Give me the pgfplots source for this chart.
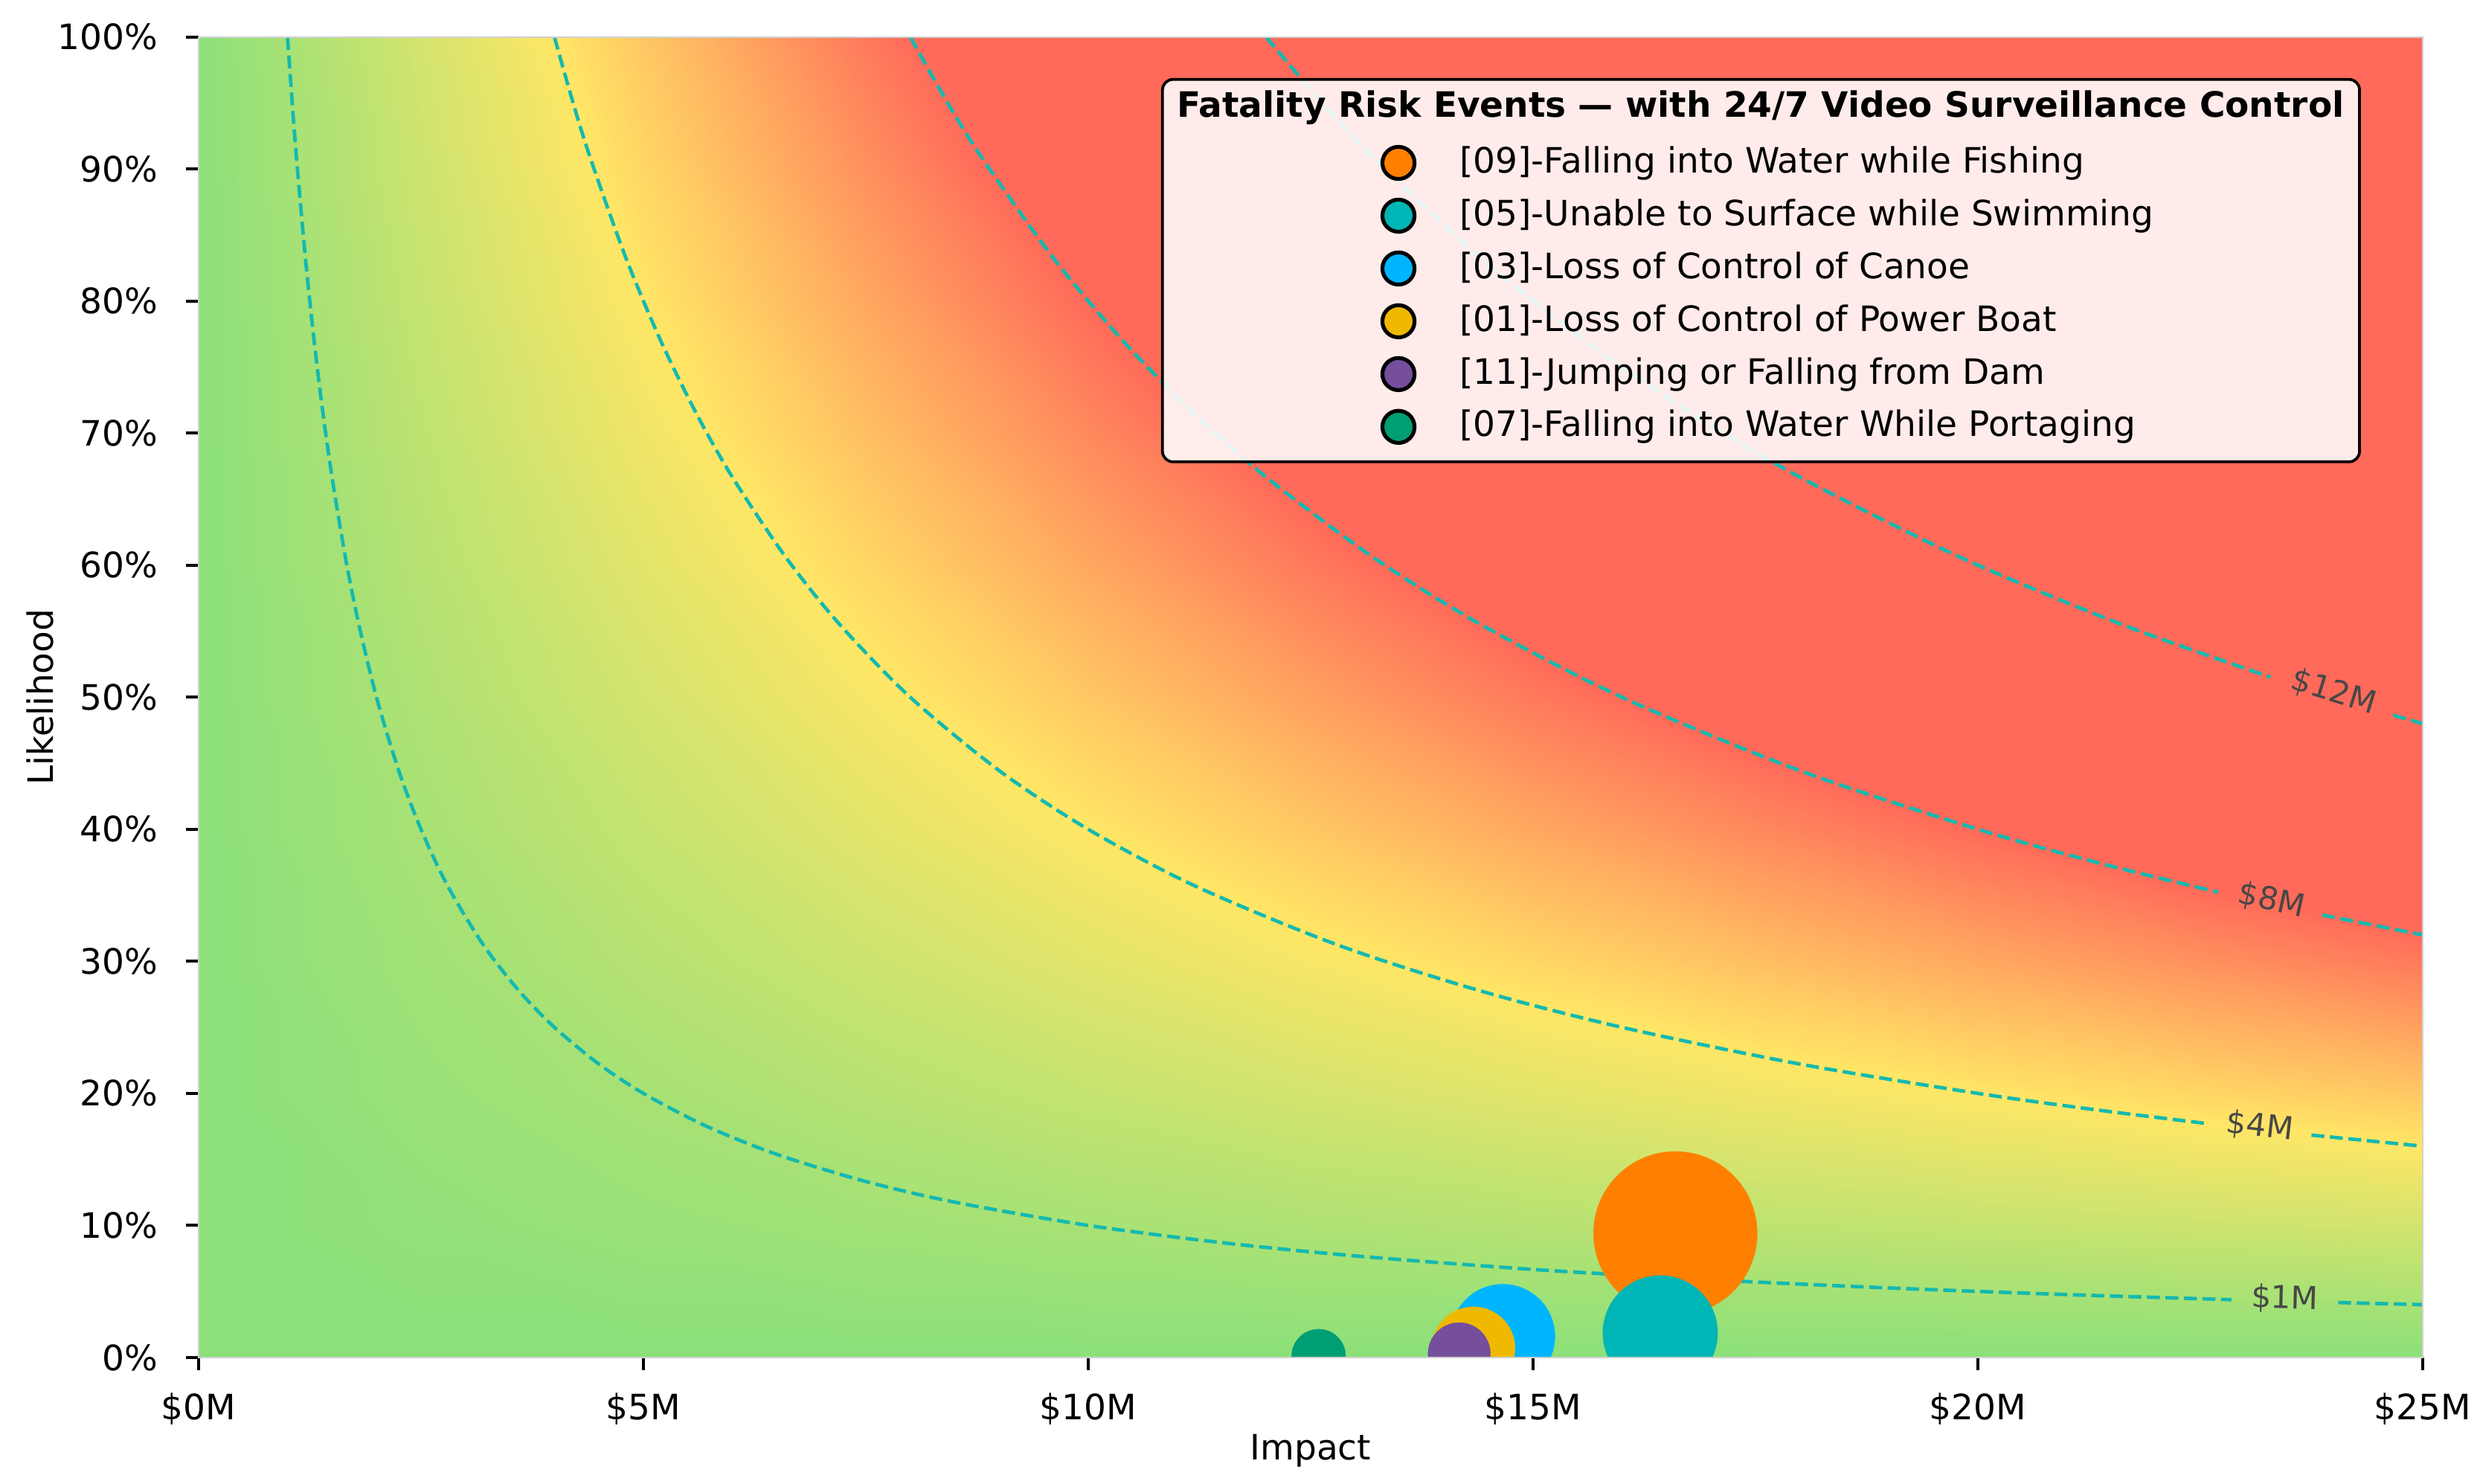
\documentclass[border=0pt]{standalone}
\usepackage{fontspec}
\setmainfont{DejaVu Sans}
\usepackage{pgfplots}
\pgfplotsset{compat=1.18}
\definecolor{cOrange}{RGB}{255,128,0}
\definecolor{cTeal}{RGB}{0,181,181}
\definecolor{cBlue}{RGB}{0,181,255}
\definecolor{cYellow}{RGB}{240,185,0}
\definecolor{cPurple}{RGB}{117,79,155}
\definecolor{cGreen}{RGB}{0,158,115}
\definecolor{cCont}{RGB}{20,185,175}
\begin{document}
\begin{tikzpicture}
\begin{axis}[
  scale only axis, width=636.2pt, height=377.7pt,
  xmin=0, xmax=25, ymin=0, ymax=100,
  xtick={0,5,10,15,20,25},
  xticklabels={\$0M,\$5M,\$10M,\$15M,\$20M,\$25M},
  ytick={0,10,20,30,40,50,60,70,80,90,100},
  yticklabels={0\%,10\%,20\%,30\%,40\%,50\%,60\%,70\%,80\%,90\%,100\%},
  tick align=outside, tick pos=left, major tick length=3.6pt,
  every tick/.style={black, line width=0.8pt},
  axis line style={draw=black!18, line width=0.5pt},
  xticklabel style={inner sep=0pt, yshift=-6.4pt},
  yticklabel style={inner sep=0pt, xshift=-7.9pt},
  xlabel={Impact}, ylabel={Likelihood},
  xlabel style={at={([yshift=-21.7pt]axis description cs:0.5,0)}, anchor=north, inner sep=0pt},
  ylabel style={at={([xshift=-49.4pt]axis description cs:0,0.5)}, anchor=north, inner sep=0pt},
  colormap={risk}{rgb255(0pt)=(139,224,122); rgb255(4pt)=(255,230,102); rgb255(8pt)=(255,106,90); rgb255(25pt)=(255,106,90)},
  point meta min=0, point meta max=25,
  clip marker paths=true,
  axis on top,
  legend cell align=left,
  legend style={at={(0.5314,0.9183)}, anchor=north west, draw=none, fill=none,
    inner sep=0pt, outer sep=0pt, row sep=4.8pt, column sep=12.4pt,
    nodes={inner sep=0pt, text height=7.6pt, text depth=2pt}},
]
% risk background (impact x likelihood)
\addplot[surf, shader=interp, mesh/cols=11, point meta=explicit, forget plot]
 table[row sep=\\, meta=m] {
x y m\\
0 0 0\\ 2.5 0 0\\ 5 0 0\\ 7.5 0 0\\ 10 0 0\\ 12.5 0 0\\ 15 0 0\\ 17.5 0 0\\ 20 0 0\\ 22.5 0 0\\ 25 0 0\\
0 10 0\\ 2.5 10 0.25\\ 5 10 0.5\\ 7.5 10 0.75\\ 10 10 1\\ 12.5 10 1.25\\ 15 10 1.5\\ 17.5 10 1.75\\ 20 10 2\\ 22.5 10 2.25\\ 25 10 2.5\\
0 20 0\\ 2.5 20 0.5\\ 5 20 1\\ 7.5 20 1.5\\ 10 20 2\\ 12.5 20 2.5\\ 15 20 3\\ 17.5 20 3.5\\ 20 20 4\\ 22.5 20 4.5\\ 25 20 5\\
0 30 0\\ 2.5 30 0.75\\ 5 30 1.5\\ 7.5 30 2.25\\ 10 30 3\\ 12.5 30 3.75\\ 15 30 4.5\\ 17.5 30 5.25\\ 20 30 6\\ 22.5 30 6.75\\ 25 30 7.5\\
0 40 0\\ 2.5 40 1\\ 5 40 2\\ 7.5 40 3\\ 10 40 4\\ 12.5 40 5\\ 15 40 6\\ 17.5 40 7\\ 20 40 8\\ 22.5 40 9\\ 25 40 10\\
0 50 0\\ 2.5 50 1.25\\ 5 50 2.5\\ 7.5 50 3.75\\ 10 50 5\\ 12.5 50 6.25\\ 15 50 7.5\\ 17.5 50 8.75\\ 20 50 10\\ 22.5 50 11.25\\ 25 50 12.5\\
0 60 0\\ 2.5 60 1.5\\ 5 60 3\\ 7.5 60 4.5\\ 10 60 6\\ 12.5 60 7.5\\ 15 60 9\\ 17.5 60 10.5\\ 20 60 12\\ 22.5 60 13.5\\ 25 60 15\\
0 70 0\\ 2.5 70 1.75\\ 5 70 3.5\\ 7.5 70 5.25\\ 10 70 7\\ 12.5 70 8.75\\ 15 70 10.5\\ 17.5 70 12.25\\ 20 70 14\\ 22.5 70 15.75\\ 25 70 17.5\\
0 80 0\\ 2.5 80 2\\ 5 80 4\\ 7.5 80 6\\ 10 80 8\\ 12.5 80 10\\ 15 80 12\\ 17.5 80 14\\ 20 80 16\\ 22.5 80 18\\ 25 80 20\\
0 90 0\\ 2.5 90 2.25\\ 5 90 4.5\\ 7.5 90 6.75\\ 10 90 9\\ 12.5 90 11.25\\ 15 90 13.5\\ 17.5 90 15.75\\ 20 90 18\\ 22.5 90 20.25\\ 25 90 22.5\\
0 100 0\\ 2.5 100 2.5\\ 5 100 5\\ 7.5 100 7.5\\ 10 100 10\\ 12.5 100 12.5\\ 15 100 15\\ 17.5 100 17.5\\ 20 100 20\\ 22.5 100 22.5\\ 25 100 25\\
};
% iso-risk contours
\pgfplotsset{contour line/.style={cCont, line width=1pt, dash pattern=on 3.7pt off 1.6pt, smooth, forget plot}}
\addplot[contour line] coordinates {(1,100) (1.05,95.24) (1.1,90.91) (1.2,83.33) (1.3,76.92) (1.4,71.43) (1.5,66.67) (1.65,60.61) (1.8,55.56) (2,50) (2.25,44.44) (2.5,40) (2.8,35.71) (3.2,31.25) (3.6,27.78) (4,25) (4.5,22.22) (5,20) (5.7,17.54) (6.5,15.38) (7.5,13.33) (8.5,11.76) (10,10) (11.5,8.696) (13,7.692) (15,6.667) (17,5.882) (19,5.263) (21,4.762) (22.85,4.376)};
\addplot[contour line] coordinates {(24.05,4.158) (25,4)};
\addplot[contour line] coordinates {(4,100) (4.2,95.24) (4.4,90.91) (4.8,83.33) (5.2,76.92) (5.6,71.43) (6,66.67) (6.6,60.61) (7.2,55.56) (8,50) (9,44.44) (10,40) (11.2,35.71) (12.8,31.25) (14.4,27.78) (16,25) (18,22.22) (20,20) (21.3,18.78) (22.58,17.71)};
\addplot[contour line] coordinates {(23.75,16.84) (25,16)};
\addplot[contour line] coordinates {(8,100) (8.4,95.24) (8.8,90.91) (9.6,83.33) (10.4,76.92) (11.2,71.43) (12,66.67) (13.2,60.61) (14.4,55.56) (16,50) (18,44.44) (20,40) (21.4,37.38) (22.7,35.24)};
\addplot[contour line] coordinates {(23.87,33.51) (25,32)};
\addplot[contour line] coordinates {(12,100) (12.6,95.24) (13.2,90.91) (14.4,83.33) (15.6,76.92) (16.8,71.43) (18,66.67) (19.8,60.61) (21.6,55.56) (23.29,51.52)};
\addplot[contour line] coordinates {(24.67,48.64) (25,48)};
\node[rotate=-1.5, text=black!72, font=\fontsize{9}{10.8}\selectfont] at (axis cs:23.45,4.45) {\$1M};
\node[rotate=-6.3, text=black!72, font=\fontsize{9}{10.8}\selectfont] at (axis cs:23.17,17.5) {\$4M};
\node[rotate=-12.3, text=black!72, font=\fontsize{9}{10.8}\selectfont] at (axis cs:23.3,34.6) {\$8M};
\node[rotate=-17.2, text=black!72, font=\fontsize{9}{10.8}\selectfont] at (axis cs:24.0,50.4) {\$12M};
% risk events
\addplot[cOrange, only marks, mark=*, mark size=23.4pt, mark options={line width=0.1pt, fill=cOrange, draw=cOrange},
  legend image code/.code={\draw[fill=cOrange, draw=black, line width=1.1pt] (0pt,0pt) circle (4.6pt);}]
  coordinates {(16.60,9.4)};
\addlegendentry{[09]-Falling into Water while Fishing}
\addplot[cTeal, only marks, mark=*, mark size=16.4pt, mark options={line width=0.1pt, fill=cTeal, draw=cTeal},
  legend image code/.code={\draw[fill=cTeal, draw=black, line width=1.1pt] (0pt,0pt) circle (4.6pt);}]
  coordinates {(16.43,1.86)};
\addlegendentry{[05]-Unable to Surface while Swimming}
\addplot[cBlue, only marks, mark=*, mark size=14.9pt, mark options={line width=0.1pt, fill=cBlue, draw=cBlue},
  legend image code/.code={\draw[fill=cBlue, draw=black, line width=1.1pt] (0pt,0pt) circle (4.6pt);}]
  coordinates {(14.66,1.6)};
\addlegendentry{[03]-Loss of Control of Canoe}
\addplot[cYellow, only marks, mark=*, mark size=11.9pt, mark options={line width=0.1pt, fill=cYellow, draw=cYellow},
  legend image code/.code={\draw[fill=cYellow, draw=black, line width=1.1pt] (0pt,0pt) circle (4.6pt);}]
  coordinates {(14.33,0.68)};
\addlegendentry{[01]-Loss of Control of Power Boat}
\addplot[cPurple, only marks, mark=*, mark size=8.9pt, mark options={line width=0.1pt, fill=cPurple, draw=cPurple},
  legend image code/.code={\draw[fill=cPurple, draw=black, line width=1.1pt] (0pt,0pt) circle (4.6pt);}]
  coordinates {(14.17,0.28)};
\addlegendentry{[11]-Jumping or Falling from Dam}
\addplot[cGreen, only marks, mark=*, mark size=7.7pt, mark options={line width=0.1pt, fill=cGreen, draw=cGreen},
  legend image code/.code={\draw[fill=cGreen, draw=black, line width=1.1pt] (0pt,0pt) circle (4.6pt);}]
  coordinates {(12.59,0.1)};
\addlegendentry{[07]-Falling into Water While Portaging}
% legend frame and title
\draw[black, line width=0.8pt, rounded corners=3pt, fill=white, fill opacity=0.88]
  (rel axis cs:0.4334,0.6783) rectangle (rel axis cs:0.9716,0.9679);
\node[anchor=base, inner sep=0pt, font=\bfseries] at (rel axis cs:0.7023,0.9392)
  {Fatality Risk Events — with 24/7 Video Surveillance Control};
\coordinate (sw) at (rel axis cs:0,0);
\coordinate (ne) at (rel axis cs:1,1);
\end{axis}
\pgfresetboundingbox
\path[use as bounding box] ([shift={(-56.8pt,-36pt)}]sw) rectangle ([shift={(16.4pt,10.6pt)}]ne);
\end{tikzpicture}
\end{document}
